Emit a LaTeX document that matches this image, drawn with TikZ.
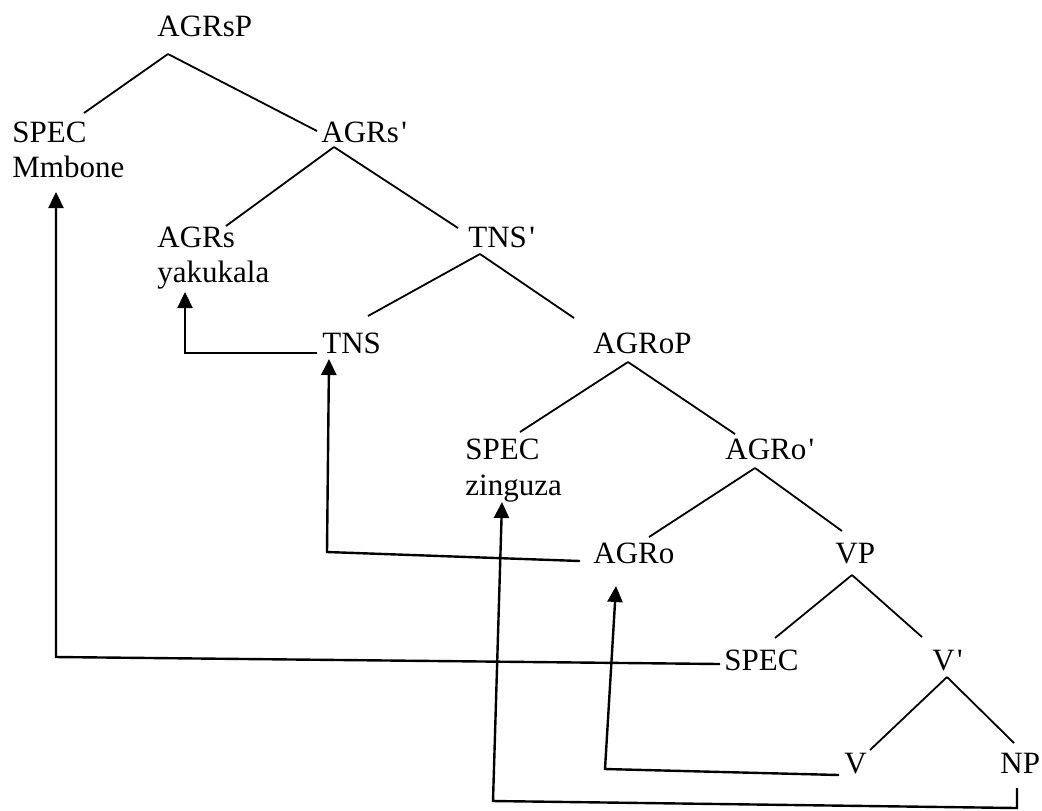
\documentclass[tikz,border=0pt]{standalone}
\usepackage{fontspec}
\setmainfont{Liberation Serif}
\newfontfamily\qfont{Liberation Serif}[Ligatures=TeXOff]
\usetikzlibrary{arrows.meta}
\newcommand{\pr}{\kern1.2pt{\qfont\char"27}}
\begin{document}
\begin{tikzpicture}[x=0.5pt,y=-0.5pt,
  lbl/.style={anchor=base west,inner sep=0pt,font=\fontsize{15.5}{17.5}\selectfont},
  branch/.style={line width=0.9pt},
  move/.style={line width=1.2pt,-{Triangle[length=8pt,width=7.5pt]}},
  plain/.style={line width=1.2pt}]
\useasboundingbox (0,0) rectangle (1042,810);
% labels
\node[lbl] (agrsp) at (157,36) {AGRsP};
\node[lbl] (spec1) at (12,142) {SPEC};
\node[lbl] (mmbone) at (12,177) {Mmbone};
\node[lbl] (agrsbar) at (321,142) {AGRs\pr};
\node[lbl] (agrs) at (157,247) {AGRs};
\node[lbl] (yakukala) at (157,282) {yakukala};
\node[lbl] (tnsbar) at (468,247) {TNS\pr};
\node[lbl] (tns) at (322,353) {TNS};
\node[lbl] (agrop) at (593,353) {AGRoP};
\node[lbl] (spec2) at (465,459) {SPEC};
\node[lbl] (zinguza) at (465,495) {zinguza};
\node[lbl] (agrobar) at (725,459) {AGRo\pr};
\node[lbl] (agro) at (593,563) {AGRo};
\node[lbl] (vp) at (835,563) {VP};
\node[lbl] (spec3) at (724,670) {SPEC};
\node[lbl] (vbar) at (932,670) {V\pr};
\node[lbl] (v) at (844,773) {V};
\node[lbl] (np) at (1000,773) {NP};
% branch end points
\coordinate (agrsp-b) at (168,54);
\coordinate (spec1-t) at (84,113);
\coordinate (agrsbar-t) at (317,131);
\coordinate (agrsbar-b) at (334,147);
\coordinate (agrs-t) at (226,226);
\coordinate (tnsbar-t) at (458,228);
\coordinate (tnsbar-b) at (480,254);
\coordinate (tns-t) at (368,316);
\coordinate (agrop-t) at (574,318);
\coordinate (agrop-b) at (628,362);
\coordinate (spec2-t) at (520,432);
\coordinate (agrobar-t) at (735,434);
\coordinate (agrobar-b) at (755,468);
\coordinate (agro-t) at (649,537);
\coordinate (vp-t) at (842,531);
\coordinate (vp-b) at (852,575);
\coordinate (spec3-t) at (775,638);
\coordinate (vbar-t) at (922,637);
\coordinate (vbar-b) at (947,677);
\coordinate (v-t) at (870,750);
\coordinate (np-t) at (1014,743);
% tree branches
\draw[branch] (agrsp-b) -- (spec1-t);
\draw[branch] (agrsp-b) -- (agrsbar-t);
\draw[branch] (agrsbar-b) -- (agrs-t);
\draw[branch] (agrsbar-b) -- (tnsbar-t);
\draw[branch] (tnsbar-b) -- (tns-t);
\draw[branch] (tnsbar-b) -- (agrop-t);
\draw[branch] (agrop-b) -- (spec2-t);
\draw[branch] (agrop-b) -- (agrobar-t);
\draw[branch] (agrobar-b) -- (agro-t);
\draw[branch] (agrobar-b) -- (vp-t);
\draw[branch] (vp-b) -- (spec3-t);
\draw[branch] (vp-b) -- (vbar-t);
\draw[branch] (vbar-b) -- (v-t);
\draw[branch] (vbar-b) -- (np-t);
% movement coordinates
\coordinate (mA0) at (720,664);
\coordinate (mA1) at (56,657);
\coordinate (mA2) at (56,192);
\coordinate (mB0) at (317,353);
\coordinate (mB1) at (185,353);
\coordinate (mB2) at (185,292);
\coordinate (mC0) at (580,561);
\coordinate (mC1) at (327,552);
\coordinate (mC2) at (329,359);
\coordinate (mD0) at (839,775);
\coordinate (mD1) at (605,769);
\coordinate (mD2) at (616,586);
\coordinate (mE0) at (1017,788);
\coordinate (mE1) at (1017,808);
\coordinate (mE2) at (493,801);
\coordinate (mE3) at (502,502);
% movement arrows
\draw[move] (mA0) -- (mA1) -- (mA2);
\draw[move] (mB0) -- (mB1) -- (mB2);
\draw[move] (mC0) -- (mC1) -- (mC2);
\draw[move] (mD0) -- (mD1) -- (mD2);
\draw[move] (mE0) -- (mE1) -- (mE2) -- (mE3);
\end{tikzpicture}
\end{document}
